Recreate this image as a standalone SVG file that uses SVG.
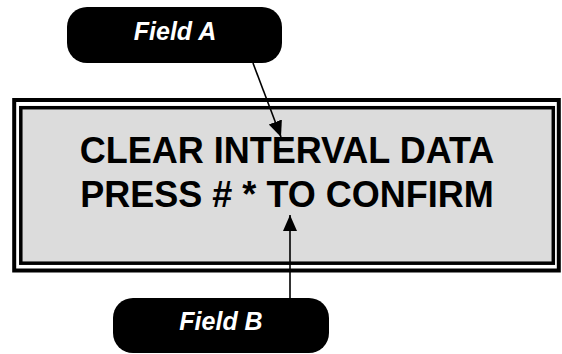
<svg xmlns="http://www.w3.org/2000/svg" width="562" height="354" viewBox="0 0 562 354">
  <defs>
    <style>
      .lbl { fill: #000; }
      .lbltxt { font-family: "Liberation Sans", Arial, sans-serif; font-weight: bold; font-style: italic; font-size: 25px; fill: #fff; text-anchor: middle; }
      .main { font-family: "Liberation Sans", Arial, sans-serif; font-weight: bold; font-size: 36px; fill: #000; text-anchor: middle; }
      .conn { stroke: #000; stroke-width: 1.6; fill: none; }
    </style>
    <marker id="arr" markerUnits="userSpaceOnUse" markerWidth="16" markerHeight="16" viewBox="0 0 16 16" refX="16" refY="8" orient="auto">
      <path d="M0,1 L16,8 L0,15 Z" fill="#000"/>
    </marker>
  </defs>
  <rect width="562" height="354" fill="#fff"/>
  <g id="display">
    <rect x="14.2" y="100" width="544.6" height="170.5" fill="#fff" stroke="#000" stroke-width="4"/>
    <rect x="20.8" y="107.7" width="532.5" height="155.5" fill="#dcdcdc" stroke="#000" stroke-width="3.5"/>
    <text class="main" x="287" y="163">CLEAR INTERVAL DATA</text>
    <text class="main" x="287" y="207">PRESS # * TO CONFIRM</text>
  </g>
  <g id="fieldA">
    <rect class="lbl" x="67" y="7" width="215" height="56" rx="20"/>
    <text class="lbltxt" x="175" y="40">Field A</text>
  </g>
  <g id="fieldB">
    <rect class="lbl" x="113" y="298" width="216" height="55" rx="20"/>
    <text class="lbltxt" x="221" y="330">Field B</text>
  </g>
  <g id="connectors">
    <line class="conn" x1="253" y1="63" x2="281" y2="137" marker-end="url(#arr)"/>
    <line class="conn" x1="290" y1="298" x2="290" y2="215" marker-end="url(#arr)"/>
  </g>
</svg>
